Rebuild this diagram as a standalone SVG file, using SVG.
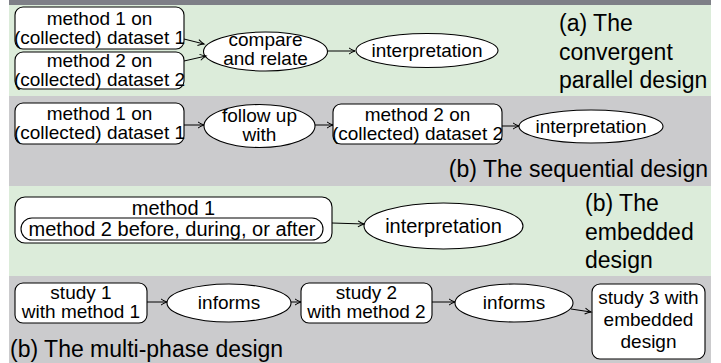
<svg xmlns="http://www.w3.org/2000/svg" width="721" height="363" viewBox="0 0 721 363">
<defs>
<marker id="ah" markerWidth="10" markerHeight="10" refX="7" refY="4" orient="auto" markerUnits="userSpaceOnUse">
<path d="M1,1 Q4,3 7,4 Q4,5 1,7" fill="none" stroke="#000" stroke-width="1"/>
</marker>
</defs>
<style>
.bg-g{fill:#dcecda}
.bg-k{fill:#cbcbcd}
.node rect,.node ellipse{fill:#fff;stroke:#000;stroke-width:1.1}
.t{font-family:"Liberation Sans",Arial,Helvetica,sans-serif;font-size:19px;fill:#000;text-anchor:middle}
.t2{font-size:20px}
.cap{font-family:"Liberation Sans",Arial,Helvetica,sans-serif;font-size:23px;fill:#000}
.conn line{stroke:#000;stroke-width:1;marker-end:url(#ah)}
</style>
<rect x="0" y="0" width="721" height="363" fill="#fff"/>
<rect x="9" y="0" width="702" height="5" fill="#7e7f87"/>
<rect class="bg-g" x="9" y="5" width="702" height="91"/>
<rect class="bg-k" x="9" y="96" width="702" height="90"/>
<rect class="bg-g" x="9" y="186" width="702" height="90"/>
<rect class="bg-k" x="9" y="276" width="702" height="87"/>

<g id="a-m1" class="node"><rect x="15" y="7" width="169" height="42" rx="8"/><text class="t" x="99.5" y="25">method 1 on</text><text class="t" x="99.5" y="44">(collected) dataset 1</text></g>
<g id="a-m2" class="node"><rect x="15" y="52" width="169" height="37" rx="8"/><text class="t" x="99.5" y="66.5">method 2 on</text><text class="t" x="99.5" y="85.5">(collected) dataset 2</text></g>
<g id="a-cmp" class="node"><ellipse cx="265.5" cy="51.5" rx="62" ry="19.5"/><text class="t" x="265.5" y="46">compare</text><text class="t" x="265.5" y="65">and relate</text></g>
<g id="a-int" class="node"><ellipse cx="427" cy="50.5" rx="71" ry="17"/><text class="t" x="427" y="57">interpretation</text></g>
<text class="cap" x="559" y="31">(a) The</text>
<text class="cap" x="559" y="59.5">convergent</text>
<text class="cap" x="559" y="88">parallel design</text>

<g id="b-m1" class="node"><rect x="15" y="103" width="169" height="41" rx="8"/><text class="t" x="99.5" y="120">method 1 on</text><text class="t" x="99.5" y="139">(collected) dataset 1</text></g>
<g id="b-fol" class="node"><ellipse cx="259.5" cy="126" rx="55.5" ry="21.5"/><text class="t" x="259.5" y="121.5">follow up</text><text class="t" x="259.5" y="141">with</text></g>
<g id="b-m2" class="node"><rect x="333" y="104" width="169" height="40" rx="8"/><text class="t" x="417.5" y="121">method 2 on</text><text class="t" x="417.5" y="140">(collected) dataset 2</text></g>
<g id="b-int" class="node"><ellipse cx="591" cy="126.5" rx="72" ry="16.5"/><text class="t" x="591" y="133">interpretation</text></g>
<text class="cap" x="708" y="177" text-anchor="end">(b) The sequential design</text>

<g id="c-m1" class="node"><rect x="15" y="197" width="317" height="46" rx="10"/><text class="t t2" x="173.5" y="215">method 1</text>
<g id="c-m2" class="node"><rect x="21" y="218" width="302" height="22" rx="11"/><text class="t t2" x="172" y="236">method 2 before, during, or after</text></g></g>
<g id="c-int" class="node"><ellipse cx="443.5" cy="226" rx="79.5" ry="23"/><text class="t t2" x="443.5" y="233">interpretation</text></g>
<text class="cap" x="585" y="211">(b) The</text>
<text class="cap" x="585" y="240">embedded</text>
<text class="cap" x="585" y="268">design</text>

<g id="d-s1" class="node"><rect x="15" y="283" width="132" height="40" rx="8"/><text class="t" x="81" y="299">study 1</text><text class="t" x="81" y="318">with method 1</text></g>
<g id="d-inf1" class="node"><ellipse cx="229" cy="303" rx="62" ry="19"/><text class="t" x="229" y="309">informs</text></g>
<g id="d-s2" class="node"><rect x="301" y="283" width="131" height="40" rx="8"/><text class="t" x="366.5" y="299">study 2</text><text class="t" x="366.5" y="318">with method 2</text></g>
<g id="d-inf2" class="node"><ellipse cx="514" cy="303" rx="59" ry="19"/><text class="t" x="514" y="309">informs</text></g>
<g id="d-s3" class="node"><rect x="592" y="284" width="113" height="75" rx="8"/><text class="t" x="648.5" y="304">study 3 with</text><text class="t" x="648.5" y="326">embedded</text><text class="t" x="648.5" y="348">design</text></g>
<text class="cap" x="10" y="357">(b) The multi-phase design</text>

<g id="connectors" class="conn">
<line x1="184" y1="39" x2="204" y2="44"/>
<line x1="184" y1="61" x2="206" y2="56"/>
<line x1="328" y1="51" x2="355" y2="51"/>
<line x1="184" y1="125" x2="204" y2="125"/>
<line x1="315" y1="125" x2="333" y2="125"/>
<line x1="502" y1="126" x2="519" y2="126"/>
<line x1="332" y1="223" x2="364" y2="224"/>
<line x1="147" y1="302" x2="167" y2="302"/>
<line x1="291" y1="302" x2="301" y2="302"/>
<line x1="432" y1="302" x2="455" y2="302"/>
<line x1="571" y1="309" x2="591" y2="312"/>
</g>
</svg>
